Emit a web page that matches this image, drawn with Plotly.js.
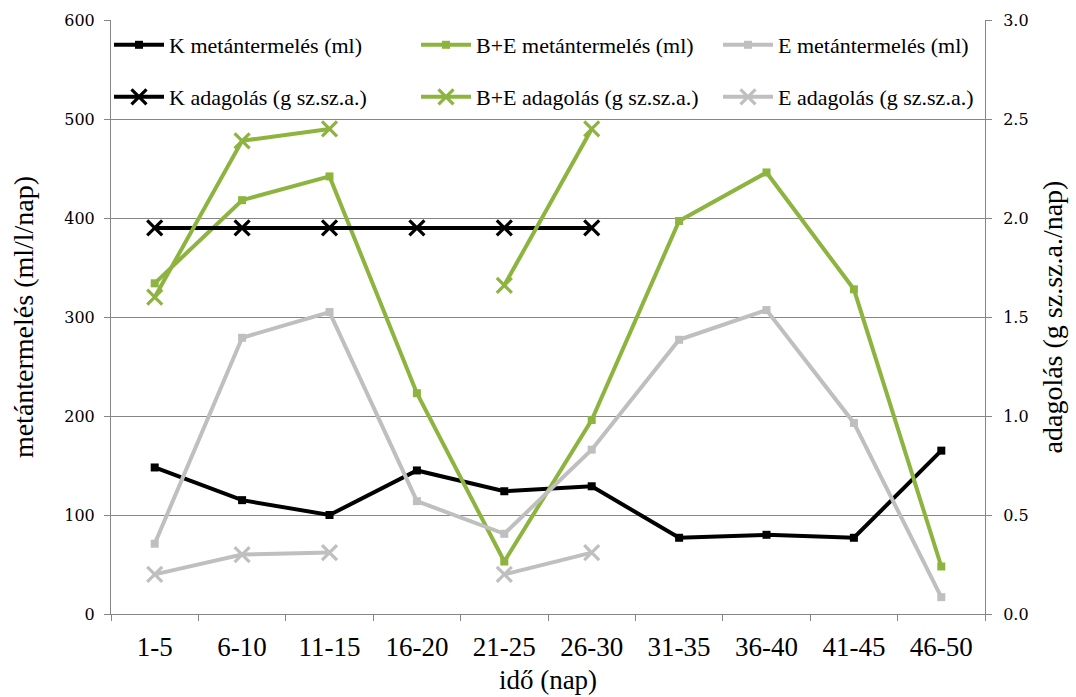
<!DOCTYPE html>
<html>
<head>
<meta charset="utf-8">
<script src="https://cdn.plot.ly/plotly-3.0.1.min.js"></script>
<style>html,body{margin:0;padding:0;background:#fff;}#chart{width:1076px;height:697px;}</style>
</head>
<body>
<div id="chart"></div>
<script>
var categories = ["1-5","6-10","11-15","16-20","21-25","26-30","31-35","36-40","41-45","46-50"];
var kMetan  = [148, 115, 100, 145, 124, 129, 77, 80, 77, 165];
var beMetan = [334, 418, 442, 223, 53, 196, 397, 446, 328, 48];
var eMetan  = [71, 279, 305, 114, 81, 166, 277, 307, 193, 17];
var kAdag   = [1.95, 1.95, 1.95, 1.95, 1.95, 1.95, null, null, null, null];
var beAdag  = [1.6, 2.39, 2.45, null, 1.66, 2.45, null, null, null, null];
var eAdag   = [0.2, 0.3, 0.31, null, 0.2, 0.31, null, null, null, null];

var BLACK = "#000000", GREEN = "#8CB43F", GREY = "#BFBFBF";
var serif = "'Liberation Serif', serif";
var tickSerif = "'DejaVu Serif', serif";

function metan(name, y, color, lg) {
  return {x: categories, y: y, name: name, type: "scatter", mode: "lines+markers",
    line: {color: color, width: 4}, marker: {symbol: "square", size: 8, color: color},
    legend: lg, yaxis: "y"};
}
function adag(name, y, color, lg) {
  return {x: categories, y: y, name: name, type: "scatter", mode: "lines+markers",
    connectgaps: false,
    line: {color: color, width: 4},
    marker: {symbol: "x-thin", size: 15, color: color, line: {color: color, width: 3.2}},
    legend: lg, yaxis: "y2"};
}

var data = [
  metan("K metántermelés (ml)", kMetan, BLACK, "legend"),
  metan("B+E metántermelés (ml)", beMetan, GREEN, "legend2"),
  metan("E metántermelés (ml)", eMetan, GREY, "legend3"),
  adag("K adagolás (g sz.sz.a.)", kAdag, BLACK, "legend4"),
  adag("B+E adagolás (g sz.sz.a.)", beAdag, GREEN, "legend5"),
  adag("E adagolás (g sz.sz.a.)", eAdag, GREY, "legend6")
];

var W = 1076, H = 697;
var PL = 111, PR = 985, PT = 20, PB = 614;
function lg(xpx, ypx) {
  return {
    xref: "paper", yref: "paper",
    x: (xpx - PL) / (PR - PL), xanchor: "left",
    y: (PB - ypx) / (PB - PT), yanchor: "middle",
    orientation: "h", itemwidth: 50,
    bgcolor: "rgba(255,255,255,0)", borderwidth: 0,
    font: {family: serif, size: 22, color: "#000"}
  };
}

var axisLine = "#868686";
var layout = {
  width: W, height: H,
  margin: {l: PL, r: W - PR, t: PT, b: H - PB},
  paper_bgcolor: "#fff", plot_bgcolor: "#fff",
  showlegend: true,
  xaxis: {
    type: "category", range: [-0.5, 9.5], tickson: "boundaries",
    ticks: "outside", ticklen: 6, tickcolor: axisLine,
    showline: true, linecolor: axisLine, linewidth: 1, mirror: false,
    showgrid: false, zeroline: false,
    ticklabelstandoff: 9,
    tickfont: {family: serif, size: 27, color: "#000"},
    title: {text: "idő (nap)", font: {family: serif, size: 27, color: "#000"}, standoff: 8}
  },
  yaxis: {
    range: [0, 600], dtick: 100, tick0: 0,
    ticks: "outside", ticklen: 6, tickcolor: axisLine,
    showline: true, linecolor: axisLine, linewidth: 1,
    showgrid: true, gridcolor: axisLine, gridwidth: 1, zeroline: false,
    ticklabelstandoff: 6,
    tickfont: {family: tickSerif, size: 16, color: "#000"},
    title: {text: "metántermelés (ml/l/nap)", font: {family: serif, size: 28, color: "#000"}, standoff: 22}
  },
  yaxis2: {
    overlaying: "y", side: "right", range: [0, 3], dtick: 0.5, tick0: 0,
    tickformat: ".1f",
    ticks: "outside", ticklen: 6, tickcolor: axisLine,
    showline: true, linecolor: axisLine, linewidth: 1,
    showgrid: false, zeroline: false,
    ticklabelstandoff: 8,
    tickfont: {family: tickSerif, size: 16, color: "#000"},
    title: {text: "adagolás (g sz.sz.a./nap)", font: {family: serif, size: 28, color: "#000"}, standoff: 14}
  },
  legend:  lg(109, 45),
  legend2: lg(416, 45),
  legend3: lg(718, 45),
  legend4: lg(109, 97),
  legend5: lg(416, 97),
  legend6: lg(718, 97)
};

Plotly.newPlot("chart", data, layout, {displayModeBar: false, staticPlot: true});
</script>
</body>
</html>
